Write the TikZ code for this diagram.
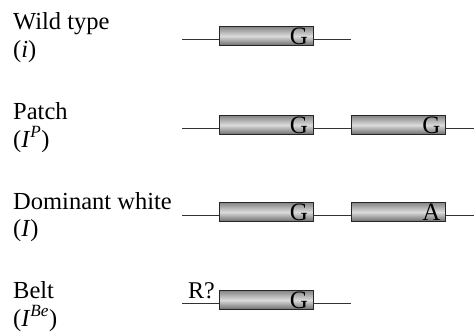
\documentclass[tikz,border=0pt]{standalone}
\usepackage{fontspec}
\setmainfont{Liberation Serif}
\definecolor{genetop}{gray}{0.52}
\definecolor{genemid}{gray}{0.86}
\definecolor{genebot}{gray}{0.42}
\tikzstyle{gene}=[rectangle, draw=black!85, line width=0.9pt, top color=genetop, bottom color=genebot, middle color=genemid, minimum width=94pt, minimum height=19pt, inner ysep=0pt, inner xsep=5pt, text width=84pt, align=right, text height=16pt, text depth=0pt, font=\fontsize{25}{25}\selectfont]
\tikzstyle{strand}=[draw, line width=0.9pt, black!80]
\tikzstyle{allele}=[anchor=base west, inner sep=0pt, font=\fontsize{24.5}{28}\selectfont]

\begin{document}
\begin{tikzpicture}[x=1pt, y=-1pt]
  \useasboundingbox (0,0) rectangle (474,333);

  % The strands, drawn first so the genes sit on top
  \foreach \row/\y/\xr in {wt/39/351, pa/128/474, dw/215/474, be/303/351} {
    \coordinate (\row-l) at (182,\y);
    \coordinate (\row-r) at (\xr,\y);
    \path[strand] (\row-l) -- (\row-r);
  }

  % The genes
  \foreach \gname/\x/\y/\base in {wt1/266/36/G, pa1/266/125/G, pa2/398.5/125/G,
                                  dw1/266/212/G, dw2/398.5/212/A, be1/266/300/G}
    \node[gene] (\gname) at (\x,\y) {\base};

  % The alleles
  \node[allele] (wt)   at (13,29)  {Wild type};
  \node[allele] (wt-s) at (13,57)  {(\textit{i})};
  \node[allele] (pa)   at (13,119) {Patch};
  \node[allele] (pa-s) at (13,147) {(\textit{I}\textsuperscript{\textit{P}})};
  \node[allele] (dw)   at (13,209) {Dominant white};
  \node[allele] (dw-s) at (13,236) {(\textit{I})};
  \node[allele] (be)   at (13,298) {Belt};
  \node[allele] (be-s) at (13,326) {(\textit{I}\textsuperscript{\textit{Be}})};

  \node[allele, font=\fontsize{24}{28}\selectfont] (r) at (188,298) {R?};
\end{tikzpicture}
\end{document}
